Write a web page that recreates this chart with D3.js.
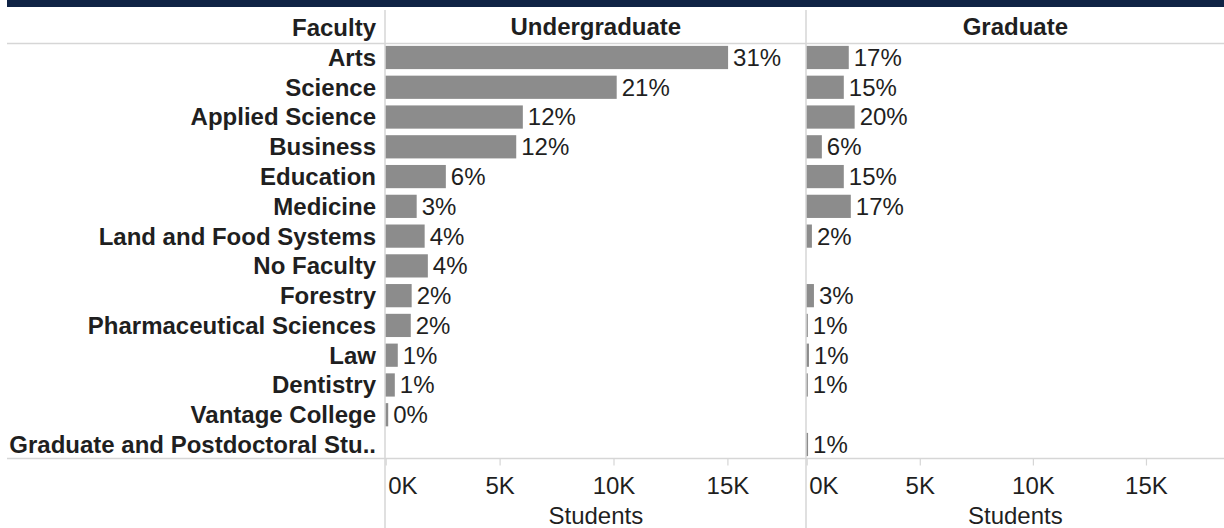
<!DOCTYPE html>
<html>
<head>
<meta charset="utf-8">
<script src="https://cdn.jsdelivr.net/npm/d3@7"></script>
<style>
  html, body { margin: 0; padding: 0; background: #fff; }
  svg { display: block; font-family: "Liberation Sans", Arial, sans-serif; }
</style>
</head>
<body>
<svg id="chart" width="1224" height="528"></svg>
<script>
// ---- data ----
const faculties = ["Arts", "Science", "Applied Science", "Business", "Education", "Medicine",
  "Land and Food Systems", "No Faculty", "Forestry", "Pharmaceutical Sciences", "Law",
  "Dentistry", "Vantage College", "Graduate and Postdoctoral Stu.."];
const undergradStudents = [15030, 10140, 6020, 5730, 2640, 1360, 1710, 1850, 1140, 1100, 530, 400, 110, null];
const undergradLabels = ["31%", "21%", "12%", "12%", "6%", "3%", "4%", "4%", "2%", "2%", "1%", "1%", "0%", null];
const gradStudents = [1860, 1640, 2120, 670, 1640, 1950, 230, null, 320, 50, 100, 50, null, 60];
const gradLabels = ["17%", "15%", "20%", "6%", "15%", "17%", "2%", null, "3%", "1%", "1%", "1%", null, "1%"];
const panelTitles = ["Undergraduate", "Graduate"];
const tickValues = [0, 5000, 10000, 15000];
const rowHeader = "Faculty";
const axisTitle = "Students";

// ---- layout ----
const W = 1224, H = 528;
const FS = 24;
const headerBottom = 43.5, axisY = 458.5;
const labelRight = 376;
const panels = [
  { x0: 385.7, x1: 806, values: undergradStudents, labels: undergradLabels, title: panelTitles[0] },
  { x0: 806.7, x1: 1224, values: gradStudents, labels: gradLabels, title: panelTitles[1] }
];
const barColor = "#8c8c8c", textColor = "#1f1f1f", gridColor = "#d6d6d6";

const svg = d3.select("#chart");

// top band
svg.append("rect").attr("x", 7).attr("y", 0).attr("width", W - 7).attr("height", 7).attr("fill", "#0f2345");

const y = d3.scaleBand().domain(faculties).range([headerBottom, axisY]).paddingInner(0.22).paddingOuter(0.08);

// horizontal separators
svg.append("line").attr("x1", 7).attr("x2", W).attr("y1", headerBottom).attr("y2", headerBottom)
  .attr("stroke", gridColor).attr("stroke-width", 1.5);
svg.append("line").attr("x1", 7).attr("x2", W).attr("y1", axisY).attr("y2", axisY)
  .attr("stroke", gridColor).attr("stroke-width", 1.5);

// vertical separators
[385, 806].forEach(x => {
  svg.append("line").attr("x1", x).attr("x2", x).attr("y1", 10).attr("y2", H)
    .attr("stroke", gridColor).attr("stroke-width", 1.5);
});

// row header
svg.append("text").attr("x", labelRight).attr("y", 35.5).attr("text-anchor", "end")
  .attr("font-size", FS).attr("font-weight", "bold").attr("fill", textColor).text(rowHeader);

// row labels
svg.append("g").selectAll("text").data(faculties).join("text")
  .attr("x", labelRight)
  .attr("y", d => y(d) + y.bandwidth() / 2 + FS * 0.35)
  .attr("text-anchor", "end").attr("font-size", FS).attr("font-weight", "bold")
  .attr("fill", textColor).text(d => d);

panels.forEach(p => {
  const x = d3.scaleLinear().domain([0, 18450]).range([p.x0, p.x1]);
  const g = svg.append("g");

  // title
  g.append("text").attr("x", (p.x0 + p.x1) / 2).attr("y", 34.5).attr("text-anchor", "middle")
    .attr("font-size", FS).attr("font-weight", "bold").attr("fill", textColor).text(p.title);

  const rows = faculties.map((f, i) => ({ f, v: p.values[i], l: p.labels[i] })).filter(d => d.v != null);

  g.selectAll("rect.bar").data(rows).join("rect").attr("class", "bar")
    .attr("x", x(0)).attr("y", d => y(d.f))
    .attr("width", d => Math.max(1, x(d.v) - x(0))).attr("height", y.bandwidth())
    .attr("fill", barColor);

  g.selectAll("text.val").data(rows).join("text").attr("class", "val")
    .attr("x", d => Math.max(x(d.v), x(0) + 1) + 5)
    .attr("y", d => y(d.f) + y.bandwidth() / 2 + FS * 0.35)
    .attr("font-size", FS).attr("fill", textColor).text(d => d.l);

  // axis
  const ax = g.append("g").attr("transform", `translate(0,${axisY})`)
    .call(d3.axisBottom(x).tickValues(tickValues).tickSize(7).tickFormat(d => (d / 1000) + "K"));
  ax.select(".domain").remove();
  ax.selectAll(".tick line").attr("stroke", gridColor).attr("stroke-width", 1.2);
  ax.selectAll(".tick text").attr("y", 35).attr("dy", 0).attr("font-size", FS)
    .attr("font-family", "Liberation Sans, Arial, sans-serif").attr("fill", textColor)
    .attr("text-anchor", (d, i) => i === 0 ? "start" : "middle")
    .attr("dx", (d, i) => i === 0 ? 2 : 0);

  g.append("text").attr("x", (p.x0 + p.x1) / 2).attr("y", 524).attr("text-anchor", "middle")
    .attr("font-size", FS).attr("fill", textColor).text(axisTitle);
});
</script>
</body>
</html>
